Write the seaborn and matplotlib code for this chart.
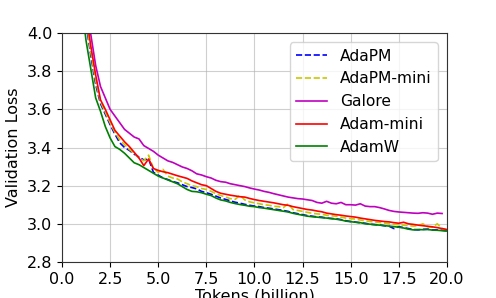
import matplotlib
matplotlib.use("Agg")
import matplotlib.pyplot as plt
import seaborn as sns
import pandas as pd

tokens = [1.0, 1.25, 1.5, 1.75, 2.0, 2.25, 2.5, 2.75, 3.0, 3.25, 3.5, 3.75,
          4.0, 4.25, 4.5, 4.75, 5.0, 5.25, 5.5, 5.75, 6.0, 6.25, 6.5, 6.75,
          7.0, 7.25, 7.5, 7.75, 8.0, 8.25, 8.5, 8.75, 9.0, 9.25, 9.5, 9.75,
          10.0, 10.25, 10.5, 10.75, 11.0, 11.25, 11.5, 11.75, 12.0, 12.25, 12.5, 12.75,
          13.0, 13.25, 13.5, 13.75, 14.0, 14.25, 14.5, 14.75, 15.0, 15.25, 15.5, 15.75,
          16.0, 16.25, 16.5, 16.75, 17.0, 17.25, 17.5, 17.75, 18.0, 18.25, 18.5, 18.75,
          19.0, 19.25, 19.5, 19.75, 20.0]

adapm = [4.30, 4.05, 3.88, 3.73, 3.63, 3.575, 3.52, 3.47, 3.425, 3.40, 3.385, 3.365,
         3.35, 3.335, 3.34, 3.27, 3.255, 3.24, 3.232, 3.222, 3.215, 3.205, 3.195, 3.19,
         3.183, 3.17, 3.163, 3.155, 3.145, 3.135, 3.128, 3.12, 3.113, 3.108, 3.102, 3.097,
         3.093, 3.09, 3.085, 3.082, 3.078, 3.074, 3.07, 3.065, 3.058, 3.053, 3.048, 3.043,
         3.04, 3.036, 3.035, 3.03, 3.028, 3.026, 3.022, 3.016, 3.012, 3.009, 3.005, 3.003,
         2.998, 2.996, 2.994, 2.99, 2.987, 2.975, 2.985, 2.98, 2.975, 2.97, 2.968, 2.971,
         2.972, 2.968, 2.968, 2.966, 2.963]

adapm_mini = [4.35, 4.07, 3.90, 3.75, 3.64, 3.585, 3.53, 3.48, 3.44, 3.415, 3.39, 3.37,
              3.345, 3.33, 3.36, 3.29, 3.27, 3.285, 3.25, 3.24, 3.235, 3.22, 3.21, 3.20,
              3.195, 3.185, 3.18, 3.17, 3.158, 3.148, 3.14, 3.132, 3.128, 3.15, 3.125, 3.115,
              3.11, 3.105, 3.10, 3.097, 3.092, 3.09, 3.085, 3.105, 3.075, 3.07, 3.065, 3.06,
              3.055, 3.052, 3.05, 3.045, 3.042, 3.04, 3.035, 3.03, 3.027, 3.025, 3.02, 3.016,
              3.012, 3.01, 3.007, 3.004, 3.0, 2.997, 2.995, 2.993, 2.99, 2.988, 2.99, 3.0,
              2.985, 2.982, 3.0, 2.975, 2.968]

galore = [4.55, 4.20, 3.99, 3.83, 3.72, 3.66, 3.60, 3.565, 3.53, 3.495, 3.475, 3.455,
          3.445, 3.41, 3.395, 3.38, 3.36, 3.345, 3.33, 3.322, 3.31, 3.298, 3.29, 3.278,
          3.262, 3.256, 3.247, 3.24, 3.228, 3.221, 3.218, 3.21, 3.205, 3.20, 3.195, 3.188,
          3.182, 3.177, 3.17, 3.165, 3.158, 3.152, 3.146, 3.14, 3.136, 3.132, 3.13, 3.126,
          3.122, 3.112, 3.108, 3.118, 3.108, 3.105, 3.112, 3.10, 3.10, 3.098, 3.105, 3.093,
          3.09, 3.09, 3.085, 3.078, 3.07, 3.065, 3.062, 3.06, 3.058, 3.056, 3.055, 3.058,
          3.056, 3.05, 3.056, 3.054]

adam_mini = [4.40, 4.10, 3.93, 3.78, 3.65, 3.60, 3.545, 3.49, 3.46, 3.43, 3.405, 3.375,
             3.345, 3.305, 3.34, 3.29, 3.28, 3.273, 3.268, 3.26, 3.252, 3.245, 3.238, 3.225,
             3.215, 3.205, 3.20, 3.185, 3.17, 3.16, 3.155, 3.15, 3.146, 3.142, 3.14, 3.133,
             3.127, 3.122, 3.118, 3.114, 3.11, 3.105, 3.10, 3.097, 3.09, 3.085, 3.08, 3.075,
             3.072, 3.067, 3.063, 3.056, 3.052, 3.048, 3.045, 3.041, 3.038, 3.035, 3.03, 3.026,
             3.022, 3.018, 3.015, 3.012, 3.01, 3.006, 3.003, 3.008, 3.0, 2.997, 2.993, 2.99,
             2.987, 2.984, 2.98, 2.975, 2.97]

adamw = [4.17, 3.96, 3.81, 3.66, 3.59, 3.51, 3.45, 3.405, 3.39, 3.37, 3.345, 3.32,
         3.31, 3.295, 3.28, 3.265, 3.25, 3.24, 3.23, 3.22, 3.21, 3.195, 3.18, 3.17,
         3.168, 3.163, 3.155, 3.148, 3.135, 3.125, 3.12, 3.112, 3.106, 3.101, 3.097, 3.092,
         3.09, 3.085, 3.082, 3.078, 3.074, 3.07, 3.066, 3.062, 3.055, 3.05, 3.045, 3.04,
         3.037, 3.035, 3.032, 3.03, 3.027, 3.024, 3.02, 3.014, 3.011, 3.008, 3.006, 3.0,
         2.998, 2.995, 2.993, 2.99, 2.988, 2.985, 2.982, 2.978, 2.972, 2.968, 2.97, 2.969,
         2.97, 2.967, 2.966, 2.964, 2.962]

series = [
    ("AdaPM", adapm, "blue", "--"),
    ("AdaPM-mini", adapm_mini, "#c8c800", "--"),
    ("Galore", galore, "m", "-"),
    ("Adam-mini", adam_mini, "red", "-"),
    ("AdamW", adamw, "green", "-"),
]

plt.rcParams["font.family"] = ["DejaVu Sans"]
fig = plt.figure(figsize=(4.96, 2.98), dpi=100)
ax = fig.add_axes([0.125, 0.121, 0.776, 0.768])

for name, vals, color, ls in series:
    df = pd.DataFrame({"tokens": tokens[:len(vals)], "loss": vals})
    sns.lineplot(data=df, x="tokens", y="loss", ax=ax, color=color,
                 linestyle=ls, linewidth=1.2, label=name)

ax.set_xlim(0, 20)
ax.set_ylim(2.8, 4.0)
ax.set_xticks([0, 2.5, 5, 7.5, 10, 12.5, 15, 17.5, 20])
ax.set_yticks([2.8, 3.0, 3.2, 3.4, 3.6, 3.8, 4.0])
ax.tick_params(labelsize=11.5)
ax.grid(True, color="#b0b0b0", alpha=0.6, linewidth=0.8)
ax.set_xlabel("Tokens (billion)", fontsize=11.5, labelpad=1)
ax.set_ylabel("Validation Loss", fontsize=11.5)
for s in ax.spines.values():
    s.set_color("#333333")
ax.legend(loc="upper right", fontsize=11.2, borderaxespad=0.6)

fig.savefig("out.png", dpi=100)
